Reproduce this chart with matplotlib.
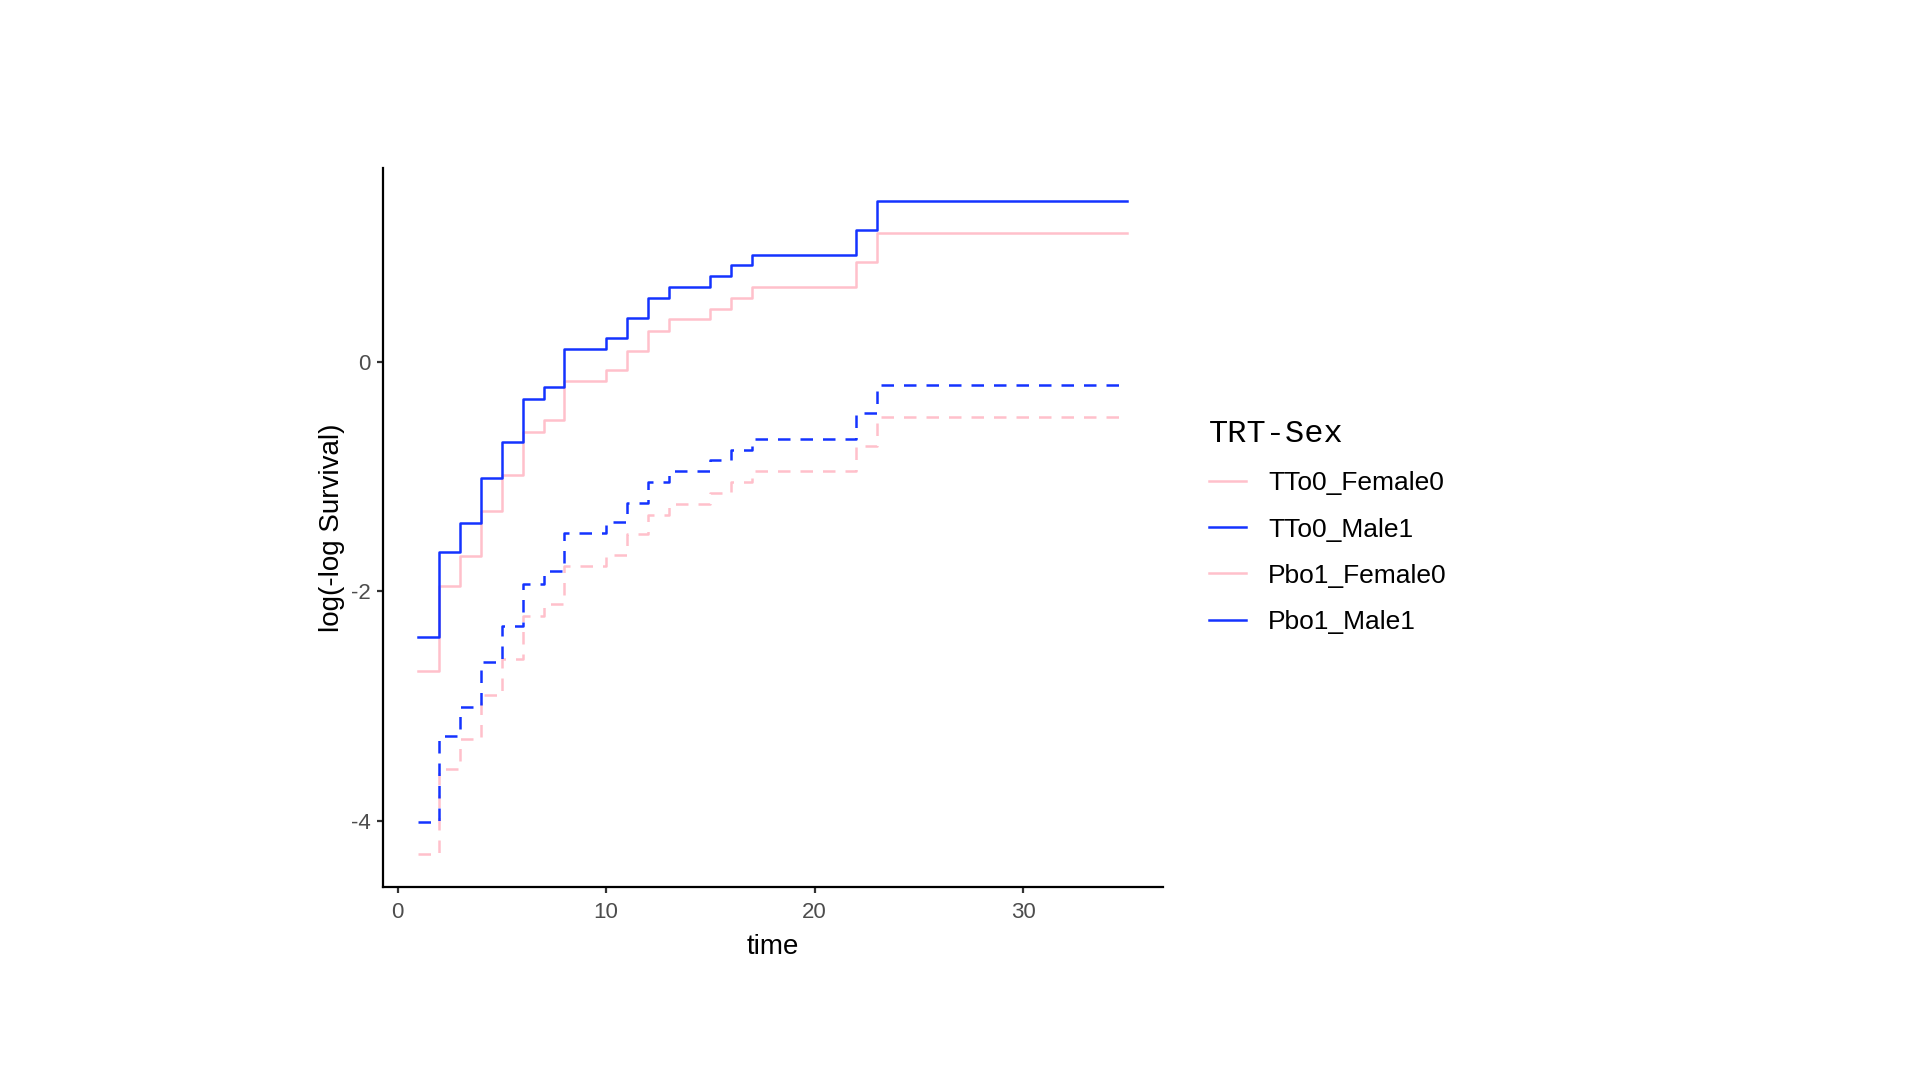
#!/usr/bin/env python
import matplotlib
matplotlib.use("Agg")
import matplotlib.pyplot as plt

# event times (last one = end of follow-up)
time = [1, 2, 3, 4, 5, 6, 7, 8, 10, 11, 12, 13, 15, 16, 17, 22, 23, 35]

tto0_female0 = [-2.69, -1.95, -1.69, -1.30, -0.99, -0.61, -0.51, -0.17, -0.075, 0.096,
                0.27, 0.37, 0.46, 0.56, 0.65, 0.867, 1.12, 1.12]
tto0_male1 = [-2.40, -1.66, -1.405, -1.014, -0.70, -0.327, -0.223, 0.11, 0.206, 0.38,
              0.56, 0.656, 0.745, 0.841, 0.93, 1.151, 1.403, 1.403]
pbo1_female0 = [-4.29, -3.548, -3.29, -2.904, -2.588, -2.211, -2.11, -1.777, -1.681, -1.504,
                -1.333, -1.237, -1.144, -1.049, -0.953, -0.733, -0.483, -0.483]
pbo1_male1 = [-4.005, -3.263, -3.009, -2.617, -2.304, -1.933, -1.826, -1.492, -1.397, -1.226,
              -1.049, -0.95, -0.857, -0.765, -0.672, -0.443, -0.20, -0.20]

labels = ["TTo0_Female0", "TTo0_Male1", "Pbo1_Female0", "Pbo1_Male1"]
series = [tto0_female0, tto0_male1, pbo1_female0, pbo1_male1]
colors = ["#FFC0CB", "#1433FF", "#FFC0CB", "#1433FF"]
styles = ["solid", "solid", (0, (5, 4)), (0, (5, 4))]

plt.rcParams["font.family"] = ["Liberation Sans", "DejaVu Sans"]
plt.rcParams["axes.unicode_minus"] = False

fig = plt.figure(figsize=(19.2, 10.8), dpi=100)
ax = fig.add_axes([0.1995, 0.1787, 0.4062, 0.6657])

for y, c, ls, lab in zip(series, colors, styles, labels):
    ax.step(time, y, where="post", color=c, linestyle=ls, linewidth=1.8, label=lab)

ax.set_xlim(-0.7, 36.7)
ax.set_ylim(-4.575, 1.688)
ax.set_xticks([0, 10, 20, 30])
ax.set_yticks([-4, -2, 0])

for s in ["top", "right"]:
    ax.spines[s].set_visible(False)
for s in ["left", "bottom"]:
    ax.spines[s].set_linewidth(1.6)
    ax.spines[s].set_color("black")

ax.tick_params(axis="both", length=4, width=1.6, color="#333333",
               labelsize=16, labelcolor="#4D4D4D", pad=5)
ax.tick_params(axis="x", pad=7)

ax.set_xlabel("time", fontsize=20, labelpad=8)
ax.set_ylabel("log(-log Survival)", fontsize=20, labelpad=4)

handles = [plt.Line2D([], [], color=c, linewidth=1.8) for c in colors]
ax.legend(handles, labels, loc="upper left", bbox_to_anchor=(1.042, 0.669),
          frameon=False, fontsize=19, title="TRT-Sex",
          title_fontproperties={"family": "Liberation Mono", "size": 23},
          handlelength=1.4, handletextpad=0.85, labelspacing=0.84,
          borderpad=0, alignment="left")

fig.savefig("out.png", dpi=100, facecolor="white")
